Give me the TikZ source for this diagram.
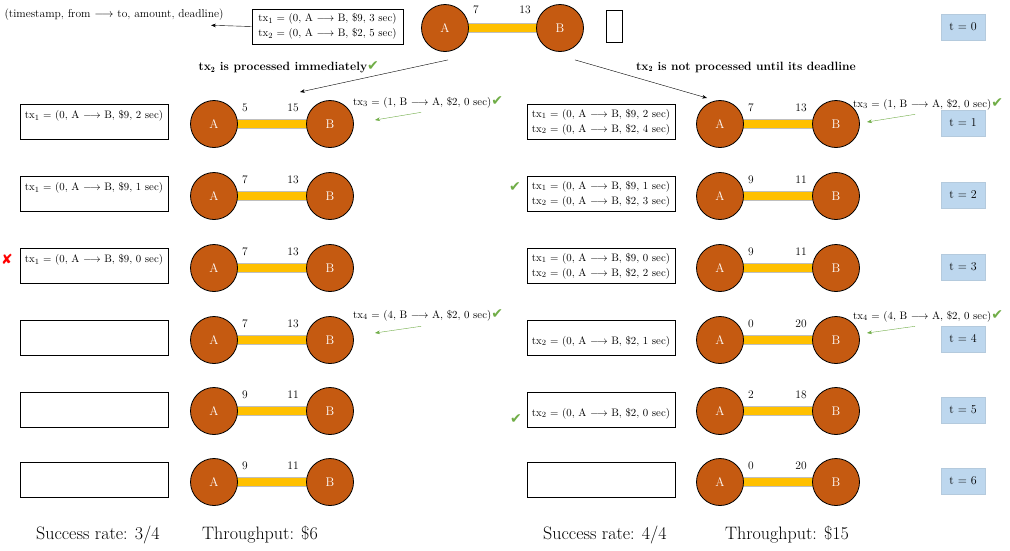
\documentclass[tikz,border=0pt]{standalone}
\usepackage{fontspec}
\usepackage{amsmath}
\usepackage{tikz}
\usetikzlibrary{calc,backgrounds,arrows.meta}
\newfontfamily\symfont{DejaVu Sans}
\definecolor{chanorange}{HTML}{C55A11}
\definecolor{baryellow}{HTML}{FFC000}
\definecolor{okgreen}{HTML}{70AD47}
\definecolor{tblue}{HTML}{BDD7EE}
\newcommand{\okmark}{{\fontsize{14}{14}\symfont\color{okgreen}✔}}
\newcommand{\failmark}{{\fontsize{14}{14}\symfont\color{red}✘}}
\newcommand{\arr}{$\longrightarrow$}

\begin{document}
\begin{tikzpicture}[x=1pt, y=-1pt, >=Stealth,
	font=\fontsize{10.8}{15}\selectfont,
	party/.style={circle, draw=black, thick, fill=chanorange, minimum size=47pt, inner sep=0pt, text=white, font=\fontsize{12.5}{14}\selectfont},
	bar/.style={draw=gray!50, double=baryellow, double distance=8pt, line width=0.6pt},
	txbox/.style={draw, line width=0.8pt, minimum width=148pt, minimum height=35pt, align=left},
	tbox/.style={fill=tblue, draw=tblue!85!gray, minimum width=44pt, minimum height=26pt, font=\fontsize{12}{14}\selectfont},
	num/.style={font=\fontsize{11.5}{13}\selectfont},
	okarrow/.style={okgreen, ->, >={Stealth[length=5pt]}, shorten <=2pt}]
	\useasboundingbox (0,0) rectangle (1010,550);

	% top: initial state
	\node[anchor=west, font=\fontsize{11.5}{13}\selectfont] (legend) at (1,15) {(timestamp, from \arr{} to, amount, deadline)};
	\node[txbox, minimum width=151pt] (pending) at (327.5,26.5) {tx$_1$ = (0, A \arr{} B, \$9, 3 sec)\\tx$_2$ = (0, A \arr{} B, \$2, 5 sec)};
	\draw[->] (pending.west) -- ($(legend.south east)+(-16,1)$);
	\node[party] (topA) at (445,28) {A};
	\node[party] (topB) at (560,28) {B};
	\begin{pgfonlayer}{background}
		\draw[bar] (topA.center) -- (topB.center);
	\end{pgfonlayer}
	\node[num] at ($(topA)+(31,-18)$) {7};
	\node[num] at ($(topB)+(-35,-18)$) {13};
	\node[draw, line width=0.8pt, minimum width=16pt, minimum height=32pt, inner sep=0pt] (emptyq) at (614,26) {};
	\node[tbox] (t0) at (963,27) {t = 0};

	% the two strategies
	\node[anchor=west, font=\fontsize{12}{14}\selectfont\bfseries] (immed) at (195,67) {tx$_\mathbf{2}$ is processed immediately\okmark};
	\node[font=\fontsize{12}{14}\selectfont\bfseries] (defer) at (746,67) {tx$_\mathbf{2}$ is not processed until its deadline};
	\draw[->] ($(topA.south)+(3,8)$) -- (300,92);
	\draw[->] ($(topB.south)+(15,8)$) -- (707,98);

	% channels over time
	\foreach \i/\y/\la/\lb/\ra/\rb in {1/124/5/15/7/13, 2/196/7/13/9/11, 3/268/7/13/9/11, 4/340/7/13/0/20, 5/411/9/11/2/18, 6/482/9/11/0/20} {
		\node[party] (lA\i) at (214,\y) {A};
		\node[party] (lB\i) at (330,\y) {B};
		\node[party] (rA\i) at (720,\y) {A};
		\node[party] (rB\i) at (836,\y) {B};
		\begin{pgfonlayer}{background}
			\draw[bar] (lA\i.center) -- (lB\i.center);
			\draw[bar] (rA\i.center) -- (rB\i.center);
		\end{pgfonlayer}
		\node[num] at ($(lA\i)+(31,-16)$) {\la};
		\node[num] at ($(lB\i)+(-37,-16)$) {\lb};
		\node[num] at ($(rA\i)+(31,-16)$) {\ra};
		\node[num] at ($(rB\i)+(-35,-16)$) {\rb};
		\node[tbox] (t\i) at (963,\y-1) {t = \i};
	}

	% queues, left
	\node[txbox] (lq1) at (94,122) {tx$_1$ = (0, A \arr{} B, \$9, 2 sec)\\\mbox{}};
	\node[txbox] (lq2) at (94,194) {tx$_1$ = (0, A \arr{} B, \$9, 1 sec)\\\mbox{}};
	\node[txbox] (lq3) at (94,266) {tx$_1$ = (0, A \arr{} B, \$9, 0 sec)\\\mbox{}};
	\node[txbox] (lq4) at (94,338) {\mbox{}\\\mbox{}};
	\node[txbox] (lq5) at (94,410) {\mbox{}\\\mbox{}};
	\node[txbox] (lq6) at (94,480) {\mbox{}\\\mbox{}};
	\node at (7,259) {\failmark};

	% queues, right
	\node[txbox] (rq1) at (601,122) {tx$_1$ = (0, A \arr{} B, \$9, 2 sec)\\tx$_2$ = (0, A \arr{} B, \$2, 4 sec)};
	\node[txbox] (rq2) at (601,194) {tx$_1$ = (0, A \arr{} B, \$9, 1 sec)\\tx$_2$ = (0, A \arr{} B, \$2, 3 sec)};
	\node[txbox] (rq3) at (601,266) {tx$_1$ = (0, A \arr{} B, \$9, 0 sec)\\tx$_2$ = (0, A \arr{} B, \$2, 2 sec)};
	\node[txbox] (rq4) at (601,338) {\mbox{}\\tx$_2$ = (0, A \arr{} B, \$2, 1 sec)};
	\node[txbox] (rq5) at (601,410) {\mbox{}\\tx$_2$ = (0, A \arr{} B, \$2, 0 sec)};
	\node[txbox] (rq6) at (601,480) {\mbox{}\\\mbox{}};
	\node at (515,187) {\okmark};
	\node at (516,419) {\okmark};

	% incoming payments B -> A
	\node[anchor=west, inner xsep=1pt] (lin3) at (352,102) {tx$_3$ = (1, B \arr{} A, \$2, 0 sec)\okmark};
	\node[anchor=west, inner xsep=1pt] (rin3) at (852,104) {tx$_3$ = (1, B \arr{} A, \$2, 0 sec)\okmark};
	\node[anchor=west, inner xsep=1pt] (lin4) at (352,315) {tx$_4$ = (4, B \arr{} A, \$2, 0 sec)\okmark};
	\node[anchor=west, inner xsep=1pt] (rin4) at (852,316) {tx$_4$ = (4, B \arr{} A, \$2, 0 sec)\okmark};
	\draw[okarrow] (423,112) -- (375,120);
	\draw[okarrow] (917,114) -- (867,122);
	\draw[okarrow] (423,326) -- (375,333);
	\draw[okarrow] (917,326) -- (867,333);

	% results
	\node[font=\fontsize{18}{20}\selectfont] (lrate) at (98,535) {Success rate: 3/4};
	\node[font=\fontsize{18}{20}\selectfont] (lput) at (260,535) {Throughput: \$6};
	\node[font=\fontsize{18}{20}\selectfont] (rrate) at (605,535) {Success rate: 4/4};
	\node[font=\fontsize{18}{20}\selectfont] (rput) at (787,535) {Throughput: \$15};
\end{tikzpicture}
\end{document}
